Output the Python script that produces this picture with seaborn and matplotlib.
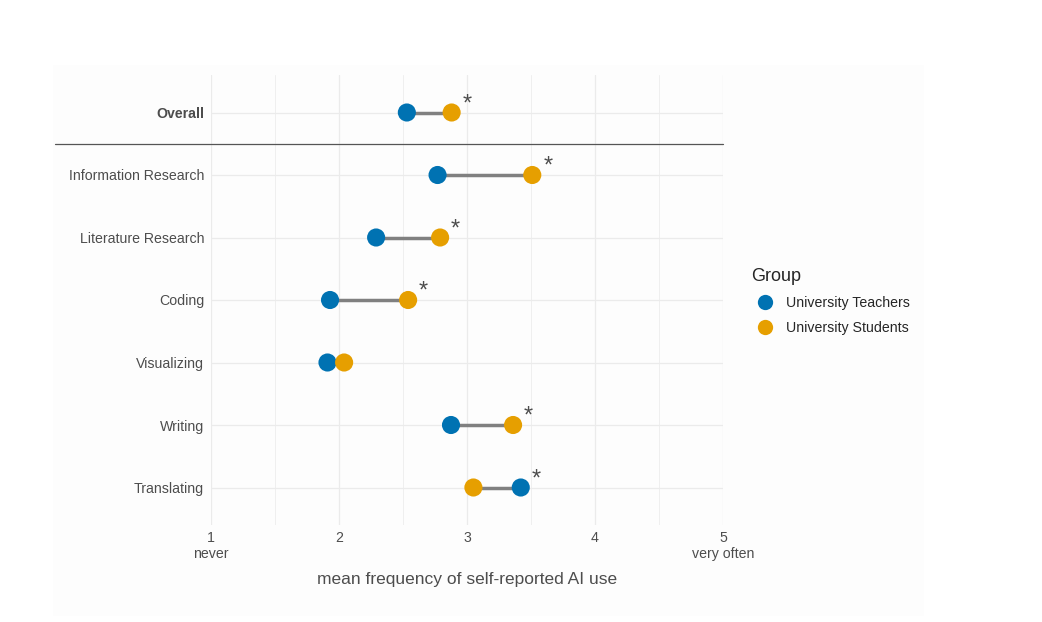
import matplotlib
matplotlib.use("Agg")
import matplotlib.pyplot as plt
import seaborn as sns
import pandas as pd
import numpy as np
from matplotlib.lines import Line2D
from matplotlib.patches import Rectangle

categories = ["Overall", "Information Research", "Literature Research", "Coding",
              "Visualizing", "Writing", "Translating"]
teachers = [2.53, 2.77, 2.29, 1.93, 1.91, 2.875, 3.42]
students = [2.88, 3.51, 2.79, 2.54, 2.04, 3.36, 3.05]
significant = [True, True, True, True, False, True, True]
groups = ["University Teachers", "University Students"]
colors = ["#0072B2", "#E69F00"]
x_ticks = [1, 2, 3, 4, 5]
x_tick_labels = ["1\nnever", "2", "3", "4", "5\nvery often"]

sns.set_theme(style="whitegrid")
plt.rcParams["font.family"] = ["Liberation Sans", "DejaVu Sans"]

df = pd.DataFrame({
    "category": categories * 2,
    "value": teachers + students,
    "Group": [groups[0]] * len(categories) + [groups[1]] * len(categories),
})

fig = plt.figure(figsize=(10.42, 6.22), dpi=100)
fig.patch.set_facecolor("white")
fig.patches.append(Rectangle((53 / 1042, 1 - 616 / 622), (924 - 53) / 1042, (616 - 65) / 622,
                             transform=fig.transFigure, facecolor="#FDFDFD", edgecolor="none", zorder=-10))
ax = fig.add_axes([211 / 1042, 1 - 525 / 622, (723 - 211) / 1042, (525 - 75) / 622])
ax.set_facecolor("none")

# segments
for i, (t, s) in enumerate(zip(teachers, students)):
    ax.plot([t, s], [i, i], color="#808080", lw=2.5, zorder=2, solid_capstyle="butt")

sns.scatterplot(data=df, x="value", y="category", hue="Group", palette=colors,
                hue_order=groups, s=170, edgecolor="none", zorder=3, ax=ax, legend=False)

# significance asterisks
for i, (t, s, sig) in enumerate(zip(teachers, students, significant)):
    if sig:
        ax.text(max(t, s) + 0.085, i - 0.13, "*", fontsize=17, color="#4D4D4D",
                ha="left", va="center", zorder=4)

ax.set_xlim(1, 5)
ax.set_ylim(len(categories) - 1 + 0.6, -0.6)
ax.set_xticks(x_ticks)
ax.set_xticklabels(x_tick_labels)
ax.set_xticks([1.5, 2.5, 3.5, 4.5], minor=True)
ax.set_yticks(range(len(categories)))
ax.set_yticklabels(categories)
for lab in ax.get_yticklabels():
    if lab.get_text() == "Overall":
        lab.set_fontweight("bold")

ax.grid(True, which="major", color="#EBEBEB", lw=0.9)
ax.grid(True, which="minor", axis="x", color="#EFEFEF", lw=0.7)
for sp in ax.spines.values():
    sp.set_visible(False)
ax.tick_params(axis="both", which="both", length=0, labelsize=10.2, labelcolor="#4D4D4D")
ax.tick_params(axis="y", pad=5)
ax.tick_params(axis="x", pad=4)
ax.set_xlabel("mean frequency of self-reported AI use", fontsize=12.5, color="#4D4D4D", labelpad=8)
ax.set_ylabel("")

# separator line between Overall and the rest
ax.add_line(Line2D([-(211 - 55) / 512, 1], [0.5, 0.5], transform=ax.get_yaxis_transform(),
                   color="#555555", lw=0.9, clip_on=False, zorder=1))

handles = [Line2D([], [], marker="o", ls="none", markersize=11, markerfacecolor=c,
                  markeredgecolor="none") for c in colors]
leg = fig.legend(handles, groups, title="Group", loc="upper left",
                 bbox_to_anchor=(738 / 1042, 1 - 255 / 622), frameon=False,
                 fontsize=10.2, title_fontsize=13, handletextpad=0.5, labelspacing=0.8,
                 alignment="left")

fig.savefig("out.png", dpi=100)
